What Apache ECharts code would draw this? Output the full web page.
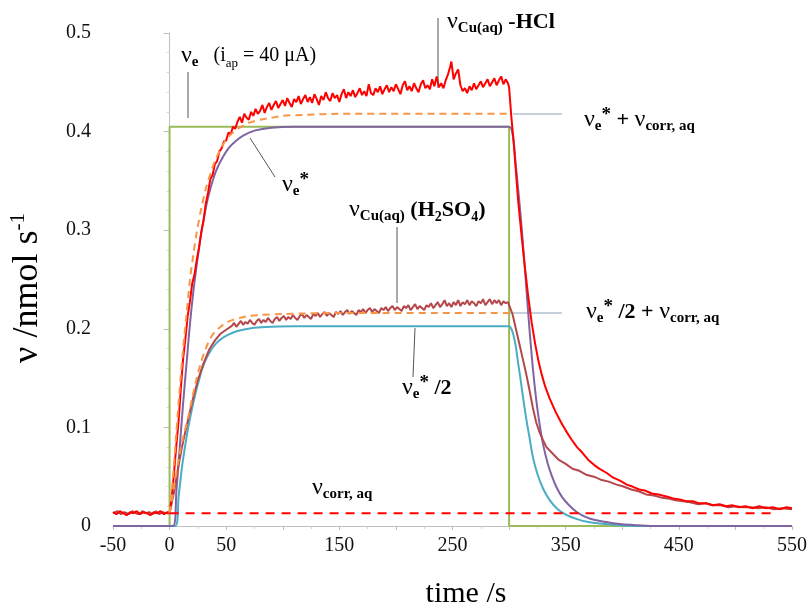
<!DOCTYPE html>
<html>
<head>
<meta charset="utf-8">
<script src="https://cdn.jsdelivr.net/npm/echarts@6/dist/echarts.min.js"></script>
<style>
  html, body { margin: 0; padding: 0; background: #fff; }
  #chart { width: 812px; height: 610px; }
</style>
</head>
<body>
<div id="chart"></div>
<script>
// Axis ticks
const xTickLabels = [-50, 0, 50, 150, 250, 350, 450, 550];
const yTickLabels = [0, 0.1, 0.2, 0.3, 0.4, 0.5];

// Applied electron rate nu_e (i_ap = 40 uA), step on at t = 0, off at t = 300 s
const veStep = [[0, 0], [0, 0.405], [300, 0.405], [300, 0], [550, 0]];

// Corrosion rate nu_corr,aq (constant)
const vCorr = [[0, 0.013], [536, 0.013]];

// nu_e* (purple)
const veStar = [
  [-50, 0], [3, 0], [6, 0.035], [9, 0.08], [12, 0.125], [15, 0.165], [18, 0.205], [21, 0.238],
  [24, 0.265], [27, 0.29], [30, 0.31], [33, 0.328], [37, 0.346], [41, 0.36], [46, 0.372],
  [52, 0.383], [58, 0.39], [65, 0.396], [75, 0.401], [90, 0.404], [110, 0.405], [300, 0.405],
  [302, 0.403], [304, 0.39], [306, 0.365], [309, 0.33], [312, 0.29], [315, 0.245], [318, 0.2],
  [321, 0.16], [324, 0.128], [327, 0.103], [330, 0.083], [334, 0.064], [338, 0.05], [342, 0.039],
  [347, 0.029], [353, 0.021], [360, 0.014], [368, 0.009], [376, 0.006], [386, 0.004],
  [398, 0.002], [410, 0.001], [425, 0], [550, 0]
];

// nu_e*/2 (cyan)
const veStarHalf = [
  [-50, 0], [5, 0], [8, 0.03], [11, 0.06], [14, 0.083], [17, 0.103], [20, 0.12], [23, 0.135],
  [26, 0.148], [29, 0.16], [33, 0.171], [37, 0.179], [41, 0.185], [46, 0.19], [52, 0.194],
  [58, 0.197], [65, 0.199], [75, 0.201], [90, 0.202], [110, 0.2025], [300, 0.2025],
  [302, 0.2], [304, 0.193], [306, 0.182], [308, 0.165], [310, 0.15], [312, 0.133], [315, 0.11],
  [318, 0.09], [321, 0.07], [325, 0.053], [330, 0.038], [336, 0.026], [343, 0.017], [351, 0.011],
  [360, 0.007], [370, 0.004], [380, 0.0025], [395, 0.001], [410, 0], [550, 0]
];

// nu_e* + nu_corr,aq (orange dashed)
const veStarPlusCorr = [
  [0, 0.013], [3, 0.05], [6, 0.095], [9, 0.14], [12, 0.18], [15, 0.215], [18, 0.25], [21, 0.275],
  [24, 0.298], [28, 0.322], [32, 0.342], [36, 0.357], [40, 0.37], [45, 0.382], [50, 0.392],
  [56, 0.399], [62, 0.404], [70, 0.409], [80, 0.412], [90, 0.414], [100, 0.416], [120, 0.417],
  [150, 0.418], [300, 0.418]
];

// nu_e*/2 + nu_corr,aq (orange dashed)
const veStarHalfPlusCorr = [
  [0, 0.013], [4, 0.04], [8, 0.067], [12, 0.09], [16, 0.108], [20, 0.13], [24, 0.15], [28, 0.167],
  [32, 0.18], [36, 0.19], [40, 0.197], [45, 0.202], [50, 0.206], [56, 0.209], [62, 0.211],
  [70, 0.213], [80, 0.214], [100, 0.215], [150, 0.216], [300, 0.216]
];

// Measured nu_Cu(aq) in HCl (red)
const vCuHCl = [
  [-50, 0.014], [-47, 0.012], [-44, 0.015], [-41, 0.013], [-38, 0.011], [-35, 0.014], [-32, 0.013],
  [-29, 0.015], [-26, 0.012], [-23, 0.014], [-20, 0.013], [-17, 0.011], [-14, 0.014], [-11, 0.013],
  [-8, 0.015], [-5, 0.012], [-2, 0.014], [0, 0.013],
  [2, 0.03], [4, 0.055], [6, 0.082], [8, 0.107], [10, 0.14], [12, 0.17], [14, 0.19], [16, 0.213],
  [18, 0.228], [20, 0.246], [22, 0.255], [24, 0.27], [26, 0.282], [28, 0.298], [30, 0.31],
  [32, 0.327], [34, 0.338], [36, 0.352], [38, 0.356], [40, 0.367], [42, 0.37], [44, 0.38],
  [46, 0.383], [48, 0.39], [50, 0.391], [52, 0.399], [54, 0.397], [56, 0.405], [58, 0.403],
  [60, 0.41], [62, 0.415], [64, 0.409], [66, 0.418], [68, 0.414], [70, 0.412], [72, 0.42],
  [74, 0.416], [76, 0.423], [78, 0.418], [80, 0.421], [82, 0.427], [84, 0.419], [86, 0.425],
  [88, 0.429], [90, 0.422], [92, 0.427], [94, 0.431], [96, 0.424], [98, 0.428], [100, 0.432],
  [102, 0.426], [104, 0.434], [106, 0.429], [108, 0.425], [110, 0.433], [112, 0.43], [114, 0.436],
  [116, 0.428], [118, 0.433], [120, 0.437], [122, 0.43], [124, 0.435], [126, 0.429], [128, 0.438],
  [130, 0.433], [132, 0.427], [134, 0.436], [136, 0.432], [138, 0.44], [140, 0.434], [142, 0.431],
  [144, 0.439], [146, 0.434], [148, 0.437], [150, 0.43], [152, 0.438], [154, 0.443], [156, 0.434],
  [158, 0.44], [160, 0.436], [162, 0.442], [164, 0.435], [166, 0.439], [168, 0.444], [170, 0.437],
  [172, 0.441], [174, 0.436], [176, 0.448], [178, 0.439], [180, 0.437], [182, 0.444], [184, 0.44],
  [186, 0.446], [188, 0.438], [190, 0.443], [192, 0.447], [194, 0.44], [196, 0.445], [198, 0.441],
  [200, 0.448], [202, 0.443], [204, 0.438], [206, 0.447], [208, 0.451], [210, 0.442], [212, 0.446],
  [214, 0.441], [216, 0.449], [218, 0.444], [220, 0.44], [222, 0.448], [224, 0.452], [226, 0.444],
  [228, 0.447], [230, 0.443], [232, 0.453], [234, 0.446], [236, 0.456], [238, 0.445], [240, 0.449],
  [242, 0.444], [244, 0.452], [246, 0.458], [248, 0.466], [249, 0.471], [251, 0.453], [253, 0.459],
  [255, 0.463], [257, 0.447], [259, 0.441], [261, 0.444], [263, 0.439], [265, 0.446], [267, 0.442],
  [269, 0.449], [271, 0.443], [273, 0.447], [275, 0.451], [277, 0.445], [279, 0.449], [281, 0.453],
  [283, 0.446], [285, 0.45], [287, 0.454], [289, 0.447], [291, 0.452], [293, 0.456], [295, 0.448],
  [297, 0.453], [299, 0.449], [300, 0.445],
  [302, 0.415], [304, 0.39], [306, 0.36], [308, 0.33], [311, 0.295], [314, 0.262], [317, 0.232],
  [320, 0.206], [323, 0.185], [326, 0.167], [329, 0.153], [332, 0.141], [336, 0.129], [341, 0.116],
  [346, 0.105], [350, 0.097], [355, 0.088], [360, 0.08], [365, 0.074], [370, 0.067], [375, 0.062],
  [380, 0.058], [386, 0.054], [392, 0.049], [398, 0.046], [404, 0.042], [409, 0.04], [415, 0.037],
  [420, 0.036], [426, 0.033], [432, 0.032], [439, 0.03], [445, 0.028], [451, 0.027], [457, 0.025],
  [463, 0.025], [468, 0.023], [474, 0.023], [480, 0.021], [486, 0.022], [492, 0.02], [497, 0.021],
  [503, 0.019], [509, 0.02], [515, 0.018], [521, 0.02], [527, 0.018], [533, 0.019], [539, 0.017],
  [545, 0.019], [550, 0.018]
];

// Measured nu_Cu(aq) in H2SO4 (brown)
const vCuH2SO4 = [
  [-50, 0.013], [-46, 0.015], [-43, 0.012], [-40, 0.014], [-36, 0.012], [-33, 0.015], [-30, 0.013],
  [-27, 0.012], [-24, 0.015], [-21, 0.013], [-18, 0.014], [-15, 0.012], [-12, 0.015], [-9, 0.012],
  [-6, 0.014], [-3, 0.013], [0, 0.013],
  [4, 0.035], [8, 0.062], [12, 0.086], [16, 0.106], [20, 0.126], [25, 0.148], [30, 0.165],
  [35, 0.179], [40, 0.188], [45, 0.195], [50, 0.199], [55, 0.203], [57, 0.206], [59, 0.202],
  [61, 0.205], [63, 0.208], [65, 0.204], [67, 0.207], [69, 0.205], [71, 0.209], [73, 0.206],
  [75, 0.204], [77, 0.208], [79, 0.21], [81, 0.206], [83, 0.209], [85, 0.207], [87, 0.211],
  [89, 0.208], [91, 0.206], [93, 0.21], [95, 0.212], [97, 0.208], [99, 0.211], [101, 0.213],
  [103, 0.209], [105, 0.212], [107, 0.21], [109, 0.214], [111, 0.211], [113, 0.209], [115, 0.213],
  [117, 0.215], [119, 0.211], [121, 0.214], [123, 0.212], [125, 0.21], [127, 0.215], [129, 0.213],
  [131, 0.216], [133, 0.212], [135, 0.215], [137, 0.217], [139, 0.213], [141, 0.216], [143, 0.214],
  [145, 0.212], [147, 0.217], [149, 0.215], [151, 0.218], [153, 0.214], [155, 0.217], [157, 0.219],
  [159, 0.215], [161, 0.218], [163, 0.216], [165, 0.214], [167, 0.219], [169, 0.217], [171, 0.22],
  [173, 0.216], [175, 0.219], [177, 0.221], [179, 0.217], [181, 0.22], [183, 0.218], [185, 0.216],
  [187, 0.221], [189, 0.219], [191, 0.222], [193, 0.218], [195, 0.221], [197, 0.223], [199, 0.219],
  [201, 0.222], [203, 0.22], [205, 0.218], [207, 0.223], [209, 0.221], [211, 0.224], [213, 0.219],
  [215, 0.222], [217, 0.225], [219, 0.22], [221, 0.223], [223, 0.221], [225, 0.219], [227, 0.224],
  [229, 0.222], [231, 0.226], [233, 0.221], [235, 0.224], [237, 0.227], [239, 0.222], [241, 0.225],
  [243, 0.229], [245, 0.223], [247, 0.226], [249, 0.222], [251, 0.227], [253, 0.224], [255, 0.229],
  [257, 0.223], [259, 0.227], [261, 0.225], [263, 0.229], [265, 0.224], [267, 0.228], [269, 0.226],
  [271, 0.223], [273, 0.228], [275, 0.226], [277, 0.23], [279, 0.224], [281, 0.227], [283, 0.23],
  [285, 0.225], [287, 0.229], [289, 0.226], [291, 0.229], [293, 0.224], [295, 0.228], [297, 0.226],
  [299, 0.227], [300, 0.224],
  [303, 0.215], [306, 0.2], [309, 0.185], [312, 0.17], [315, 0.155], [318, 0.138], [321, 0.12],
  [324, 0.105], [327, 0.095], [330, 0.087], [333, 0.08], [338, 0.074], [344, 0.067], [350, 0.063],
  [356, 0.058], [362, 0.056], [368, 0.052], [375, 0.05], [381, 0.047], [388, 0.045], [395, 0.042],
  [401, 0.04], [408, 0.037], [415, 0.035], [421, 0.032], [428, 0.031], [434, 0.029], [440, 0.028],
  [447, 0.026], [454, 0.025], [460, 0.024], [467, 0.022], [474, 0.023], [480, 0.021], [487, 0.021],
  [494, 0.019], [500, 0.02], [507, 0.019], [514, 0.019], [520, 0.018], [527, 0.019], [534, 0.017],
  [541, 0.018], [550, 0.017]
];

const SERIF = '"Liberation Serif", "DejaVu Serif", serif';

const chart = echarts.init(document.getElementById('chart'), null, { renderer: 'canvas' });

function line(name, data, color, width, extra) {
  return Object.assign({
    name, type: 'line', data, showSymbol: false, symbol: 'none',
    lineStyle: { color, width }, animation: false, silent: true
  }, extra || {});
}

// Shared rich-text styles for the annotations (nu with sub/superscripts)
const rich = {
  n: { fontFamily: SERIF, fontSize: 24, lineHeight: 28 },
  s: { fontFamily: SERIF, fontSize: 15, fontWeight: 'bold', lineHeight: 16, verticalAlign: 'bottom' },
  p: { fontFamily: SERIF, fontSize: 19, fontWeight: 'bold', lineHeight: 18, verticalAlign: 'top' },
  b: { fontFamily: SERIF, fontSize: 22, fontWeight: 'bold', lineHeight: 28 },
  g: { fontFamily: SERIF, fontSize: 20, lineHeight: 28 },
  gs: { fontFamily: SERIF, fontSize: 13, lineHeight: 14, verticalAlign: 'bottom' },
  bs: { fontFamily: SERIF, fontSize: 14, fontWeight: 'bold', lineHeight: 14, verticalAlign: 'bottom' }
};

function label(x, y, text) {
  return {
    type: 'text', x, y, silent: true,
    style: { text, fill: '#000', rich, textAlign: 'left', textVerticalAlign: 'middle',
             fontFamily: SERIF, fontSize: 22 }
  };
}
function leader(x1, y1, x2, y2, color) {
  return {
    type: 'line', silent: true,
    shape: { x1, y1, x2, y2 },
    style: { stroke: color || '#555', lineWidth: 1 }
  };
}

const option = {
  backgroundColor: '#fff',
  animation: false,
  grid: { left: 113, right: 20, top: 33, bottom: 84, containLabel: false, outerBoundsMode: 'none' },
  xAxis: {
    type: 'value', min: -50, max: 550, interval: 50,
    axisLine: { lineStyle: { color: '#bfbfbf', width: 1 } },
    axisTick: { show: true, length: 4, lineStyle: { color: '#bfbfbf' } },
    minorTick: { show: true, splitNumber: 2, length: 3, lineStyle: { color: '#d0d0d0' } },
    splitLine: { show: false },
    axisLabel: {
      fontFamily: SERIF, fontSize: 20, color: '#111', margin: 10,
      formatter: v => (xTickLabels.indexOf(v) >= 0 ? String(v) : '')
    }
  },
  yAxis: {
    type: 'value', min: 0, max: 0.5, interval: 0.1,
    axisLine: { show: true, lineStyle: { color: '#bfbfbf', width: 1 } },
    axisTick: { show: true, length: 6, lineStyle: { color: '#bfbfbf' } },
    minorTick: { show: true, splitNumber: 5, length: 3, lineStyle: { color: '#d8d8d8' } },
    splitLine: { show: false },
    axisLabel: {
      fontFamily: SERIF, fontSize: 20, color: '#111', margin: 22,
      formatter: v => {
        const k = yTickLabels.findIndex(t => Math.abs(t - v) < 1e-9);
        return k < 0 ? '' : (v === 0 ? '0' : v.toFixed(1));
      }
    }
  },
  series: [
    line('νe', veStep, '#9BBB59', 2),
    line('νe*/2', veStarHalf, '#4BACC6', 2, { smooth: 0.3 }),
    line('νe*', veStar, '#8064A2', 2, { smooth: 0.3 }),
    line('νCu(aq) (H2SO4)', vCuH2SO4, '#B5474B', 2),
    line('νCu(aq) -HCl', vCuHCl, '#FF0000', 2),
    line('νe* + νcorr,aq', veStarPlusCorr, '#F79646', 2, { smooth: 0.3, lineStyle: { color: '#F79646', width: 2, type: [7, 5] } }),
    line('νe*/2 + νcorr,aq', veStarHalfPlusCorr, '#F79646', 2, { smooth: 0.3, lineStyle: { color: '#F79646', width: 2, type: [7, 5] } }),
    line('νcorr,aq', vCorr, '#FF0000', 2, { lineStyle: { color: '#FF0000', width: 2, type: [9, 7] } })
  ],
  graphic: [
    // axis titles
    {
      type: 'text', x: 28, y: 288, rotation: Math.PI / 2, silent: true,
      style: {
        text: '{m|ν /nmol s}{u|-1}', fill: '#000', textAlign: 'center', textVerticalAlign: 'middle',
        rich: {
          m: { fontFamily: SERIF, fontSize: 36, lineHeight: 40 },
          u: { fontFamily: SERIF, fontSize: 21, lineHeight: 22, verticalAlign: 'top' }
        }
      }
    },
    {
      type: 'text', x: 466, y: 594, silent: true,
      style: { text: 'time /s', fill: '#000', fontFamily: SERIF, fontSize: 30,
               textAlign: 'center', textVerticalAlign: 'middle' }
    },
    // leader lines
    leader(188, 72, 188, 118),
    leader(438, 18, 438, 88),
    leader(513, 114, 562, 114, '#8ea2b8'),
    leader(250, 138, 275, 177),
    leader(397, 227, 397, 303),
    leader(510, 313, 562, 313, '#8ea2b8'),
    leader(415, 328, 413, 377),
    // annotations
    label(181, 56, '{n|ν}{s|e}{g|   (i}{gs|ap}{g| = 40 }{g|μ}{g|A)}'),
    label(447, 22, '{n|ν}{s|Cu(aq)}{b| -HCl}'),
    label(584, 120, '{n|ν}{s|e}{p|*}{b| + }{n|ν}{s|corr, aq}'),
    label(282, 185, '{n|ν}{s|e}{p|*}'),
    label(349, 210, '{n|ν}{s|Cu(aq)}{b| (H}{bs|2}{b|SO}{bs|4}{b|)}'),
    label(586, 312, '{n|ν}{s|e}{p|*}{b| /2 + }{n|ν}{s|corr, aq}'),
    label(402, 388, '{n|ν}{s|e}{p|*}{b| /2}'),
    label(312, 488, '{n|ν}{s|corr, aq}')
  ]
};

chart.setOption(option);
</script>
</body>
</html>
